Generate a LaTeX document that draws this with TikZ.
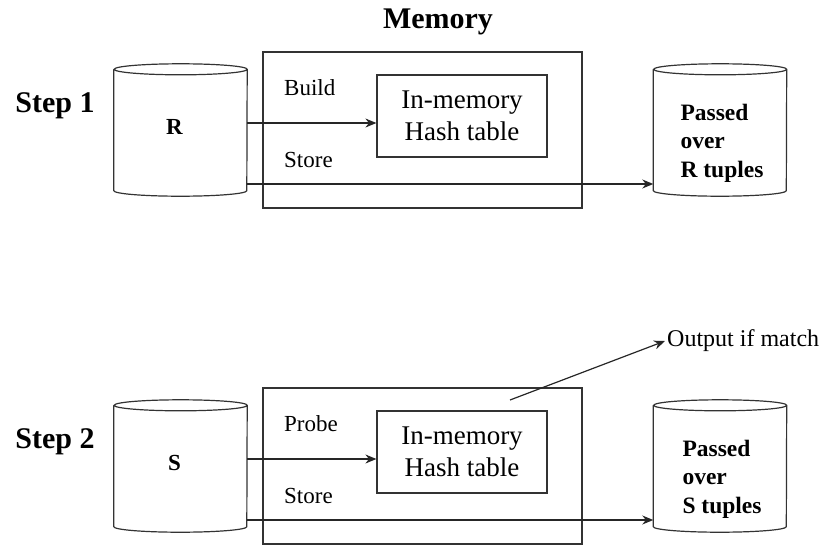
\documentclass[tikz,border=0pt]{standalone}
\usepackage{fontspec}
\setmainfont{Liberation Serif}
\usetikzlibrary{arrows.meta,positioning}
\tikzstyle{dbcyl} = [rectangle, minimum width=133pt, minimum height=132pt, inner sep=0pt]
\tikzstyle{cylline} = [draw=black!80, fill=white, line width=1.2pt]
\tikzstyle{membox} = [rectangle, draw=black!80, minimum width=319pt, minimum height=156pt, line width=1.2pt]
\tikzstyle{hashbox} = [rectangle, draw=black!80, fill=white, minimum width=170pt, minimum height=82pt,
align=center, line width=1.2pt, font=\fontsize{27}{32}\selectfont]
\tikzstyle{oplabel} = [anchor=west, inner sep=0pt, font=\fontsize{23}{28}\selectfont]
\tikzstyle{heading} = [font=\fontsize{30}{36}\selectfont\bfseries]
\tikzstyle{dbtext} = [align=left, inner sep=0pt, font=\fontsize{23.5}{28.5}\selectfont\bfseries]
\tikzstyle{line} = [draw=black!85, -{Stealth[length=11pt,width=9pt]}, line width=1.2pt]

\begin{document}
\begin{tikzpicture}[x=1pt,y=-1pt]
\useasboundingbox (0,0) rectangle (822,544);
% Place nodes
	\node [heading] (memtitle) at (438,22) {Memory};
	\node [heading] (step1) at (55,106) {Step 1};
	\node [heading] (step2) at (55,442) {Step 2};

	\node [membox] (memR) at (422.5,130) {};
	\node [dbcyl] (cylR) at (180.5,130) {};
	\node [hashbox] (hashR) at (462,116) {In-memory\\Hash table};
	\node [oplabel] (build) at (284,88) {Build};
	\node [oplabel] (storeR) at (284,160) {Store};
	\node [dbcyl] (outR) at (720,130) {};

	\node [membox] (memS) at (422.5,466) {};
	\node [dbcyl] (cylS) at (180.5,466) {};
	\node [hashbox] (hashS) at (462,452) {In-memory\\Hash table};
	\node [oplabel] (probe) at (284,424) {Probe};
	\node [oplabel] (storeS) at (284,496) {Store};
	\node [dbcyl] (outS) at (720,466) {};
	\coordinate (match) at (510,400);
	\node [oplabel, inner sep=2pt, font=\fontsize{24}{28}\selectfont] (output) at (665,341) {Output if match};

% Cylinders
	\foreach \cyl in {cylR,outR,cylS,outS}
		\path [cylline] ([yshift=-5.5pt]\cyl.north west) -- ([yshift=5.5pt]\cyl.south west)
			arc[start angle=180, end angle=360, x radius=66.5pt, y radius=5.5pt]
			-- ([yshift=-5.5pt]\cyl.north east)
			arc[start angle=0, end angle=360, x radius=66.5pt, y radius=5.5pt];
	\node [font=\fontsize{23}{28}\selectfont\bfseries] (cylRtext) at ([xshift=-6pt,yshift=3pt]cylR.center) {R};
	\node [font=\fontsize{23}{28}\selectfont\bfseries] (cylStext) at ([xshift=-6pt,yshift=3pt]cylS.center) {S};
	\node [dbtext] (outRtext) at ([xshift=2pt,yshift=-13pt]outR.center) {Passed\\over\\R tuples};
	\node [dbtext] (outStext) at ([xshift=2pt,yshift=-13pt]outS.center) {Passed\\over\\S tuples};

% Draw edges
	\path [line] ([yshift=7pt]cylR.east) -- ([yshift=7pt]cylR.east -| hashR.west);
	\path [line] ([yshift=-54pt]cylR.east) -- ([yshift=-54pt]outR.west);
	\path [line] ([yshift=7pt]cylS.east) -- ([yshift=7pt]cylS.east -| hashS.west);
	\path [line] ([yshift=-54pt]cylS.east) -- ([yshift=-54pt]outS.west);
	\path [line] (match) -- (output.west);

\end{tikzpicture}
\end{document}
